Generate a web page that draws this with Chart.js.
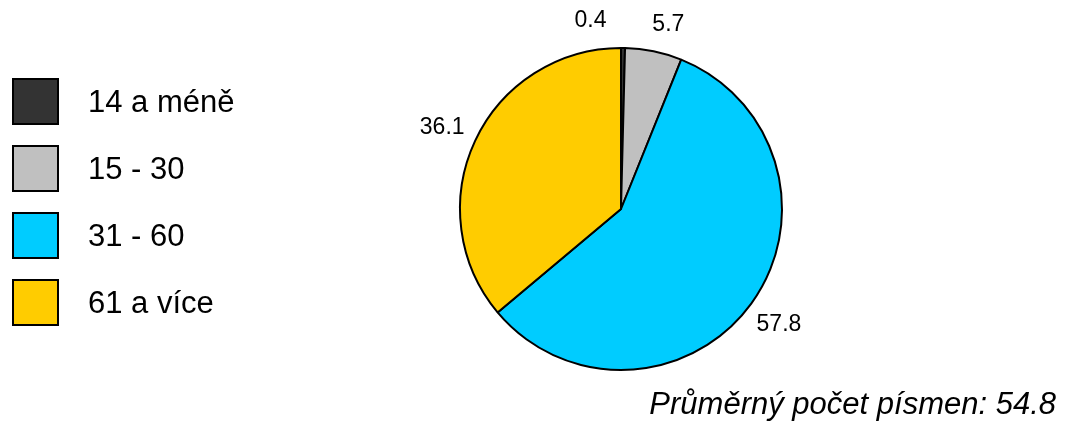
<!DOCTYPE html>
<html>
<head>
<meta charset="utf-8">
<script src="https://cdn.jsdelivr.net/npm/chart.js@4"></script>
<style>
  html, body { margin: 0; padding: 0; background: #fff; }
  #wrap { position: relative; width: 1068px; height: 421px; }
</style>
</head>
<body>
<div id="wrap"><canvas id="pie" width="1068" height="421"></canvas></div>
<script>
// word length groups and their share in percent
const categories = ["14 a méně", "15 - 30", "31 - 60", "61 a více"];
const shares = [0.4, 5.7, 57.8, 36.1];
const colors = ["#333333", "#c0c0c0", "#00ccff", "#ffcc00"];
const averageText = "Průměrný počet písmen: 54.8";

// legend squares on the left
const sideLegend = {
  id: "sideLegend",
  afterDraw(chart) {
    const ctx = chart.ctx;
    ctx.save();
    ctx.font = "31px 'Liberation Sans', Arial, sans-serif";
    ctx.textBaseline = "middle";
    categories.forEach((name, i) => {
      const y = 79 + i * 67;
      ctx.fillStyle = colors[i];
      ctx.fillRect(13, y, 45, 45);
      ctx.lineWidth = 2;
      ctx.strokeStyle = "#000";
      ctx.strokeRect(13, y, 45, 45);
      ctx.fillStyle = "#000";
      ctx.fillText(name, 88, y + 24);
    });
    ctx.restore();
  }
};

// value labels outside the slices + average note
const valueLabels = {
  id: "valueLabels",
  afterDraw(chart) {
    const ctx = chart.ctx;
    const meta = chart.getDatasetMeta(0);
    const nudge = [[-33, 6], [8, 6], [1, 2], [-3, 1]];
    ctx.save();
    ctx.font = "23px 'Liberation Sans', Arial, sans-serif";
    ctx.fillStyle = "#000";
    ctx.textAlign = "center";
    ctx.textBaseline = "middle";
    meta.data.forEach((arc, i) => {
      const mid = (arc.startAngle + arc.endAngle) / 2;
      const r = arc.outerRadius + 33;
      const x = arc.x + Math.cos(mid) * r + nudge[i][0];
      const y = arc.y + Math.sin(mid) * r + nudge[i][1];
      ctx.fillText(shares[i].toFixed(1), x, y);
    });
    ctx.font = "italic 31px 'Liberation Sans', Arial, sans-serif";
    ctx.textAlign = "right";
    ctx.fillText(averageText, 1056, 405);
    ctx.restore();
  }
};

new Chart(document.getElementById("pie"), {
  type: "pie",
  data: {
    labels: categories,
    datasets: [{
      data: shares,
      backgroundColor: colors,
      borderColor: "#000",
      borderWidth: 2
    }]
  },
  options: {
    responsive: false,
    animation: false,
    layout: { padding: { left: 459, right: 285, top: 46, bottom: 49 } },
    plugins: {
      legend: { display: false },
      tooltip: { enabled: false }
    }
  },
  plugins: [sideLegend, valueLabels]
});
</script>
</body>
</html>
